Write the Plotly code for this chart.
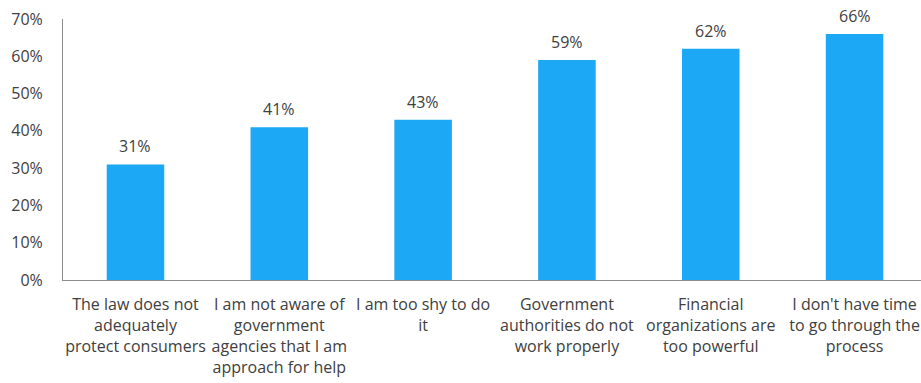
import plotly.graph_objects as go

# Survey reasons and share of respondents (%)
categories = [
    "The law does not<br>adequately<br>protect consumers",
    "I am not aware of<br>government<br>agencies that I am<br>approach for help",
    "I am too shy to do<br>it",
    "Government<br>authorities do not<br>work properly",
    "Financial<br>organizations are<br>too powerful",
    "I don't have time<br>to go through the<br>process",
]
values = [31, 41, 43, 59, 62, 66]
y_ticks = [0, 10, 20, 30, 40, 50, 60, 70]
y_tick_labels = [f"{v}%" for v in y_ticks]

FONT = "Open Sans"
TEXT_COLOR = "#404040"
BAR_COLOR = "#1DA8F5"
AXIS_COLOR = "#8C8C8C"

x_pos = list(range(len(categories)))

fig = go.Figure(
    go.Bar(
        x=x_pos,
        y=values,
        width=0.4,
        marker=dict(color=BAR_COLOR, line=dict(width=0)),
        cliponaxis=False,
    )
)

# value labels above each bar
for xi, v in zip(x_pos, values):
    fig.add_annotation(
        x=xi, y=v, text=f"{v}%", showarrow=False,
        yanchor="bottom", yshift=5,
        font=dict(family=FONT, size=16, color=TEXT_COLOR),
    )

fig.update_layout(
    width=921,
    height=383,
    margin=dict(l=63, r=0, t=19, b=103),
    paper_bgcolor="white",
    plot_bgcolor="white",
    showlegend=False,
    font=dict(family=FONT, size=16, color=TEXT_COLOR),
)

fig.update_xaxes(
    tickmode="array",
    tickvals=x_pos,
    ticktext=categories,
    range=[-0.504, 5.462],
    showline=True,
    linecolor=AXIS_COLOR,
    linewidth=1,
    ticks="",
    showgrid=False,
    tickfont=dict(family=FONT, size=16, color=TEXT_COLOR),
    tickangle=0,
    ticklabelstandoff=10,
)

fig.update_yaxes(
    range=[0, 70],
    tickmode="array",
    tickvals=y_ticks,
    ticktext=y_tick_labels,
    showline=True,
    linecolor=AXIS_COLOR,
    linewidth=1,
    ticks="",
    showgrid=False,
    zeroline=False,
    ticklabelstandoff=16,
    tickfont=dict(family=FONT, size=16, color=TEXT_COLOR),
)

fig.write_html("out.html")
